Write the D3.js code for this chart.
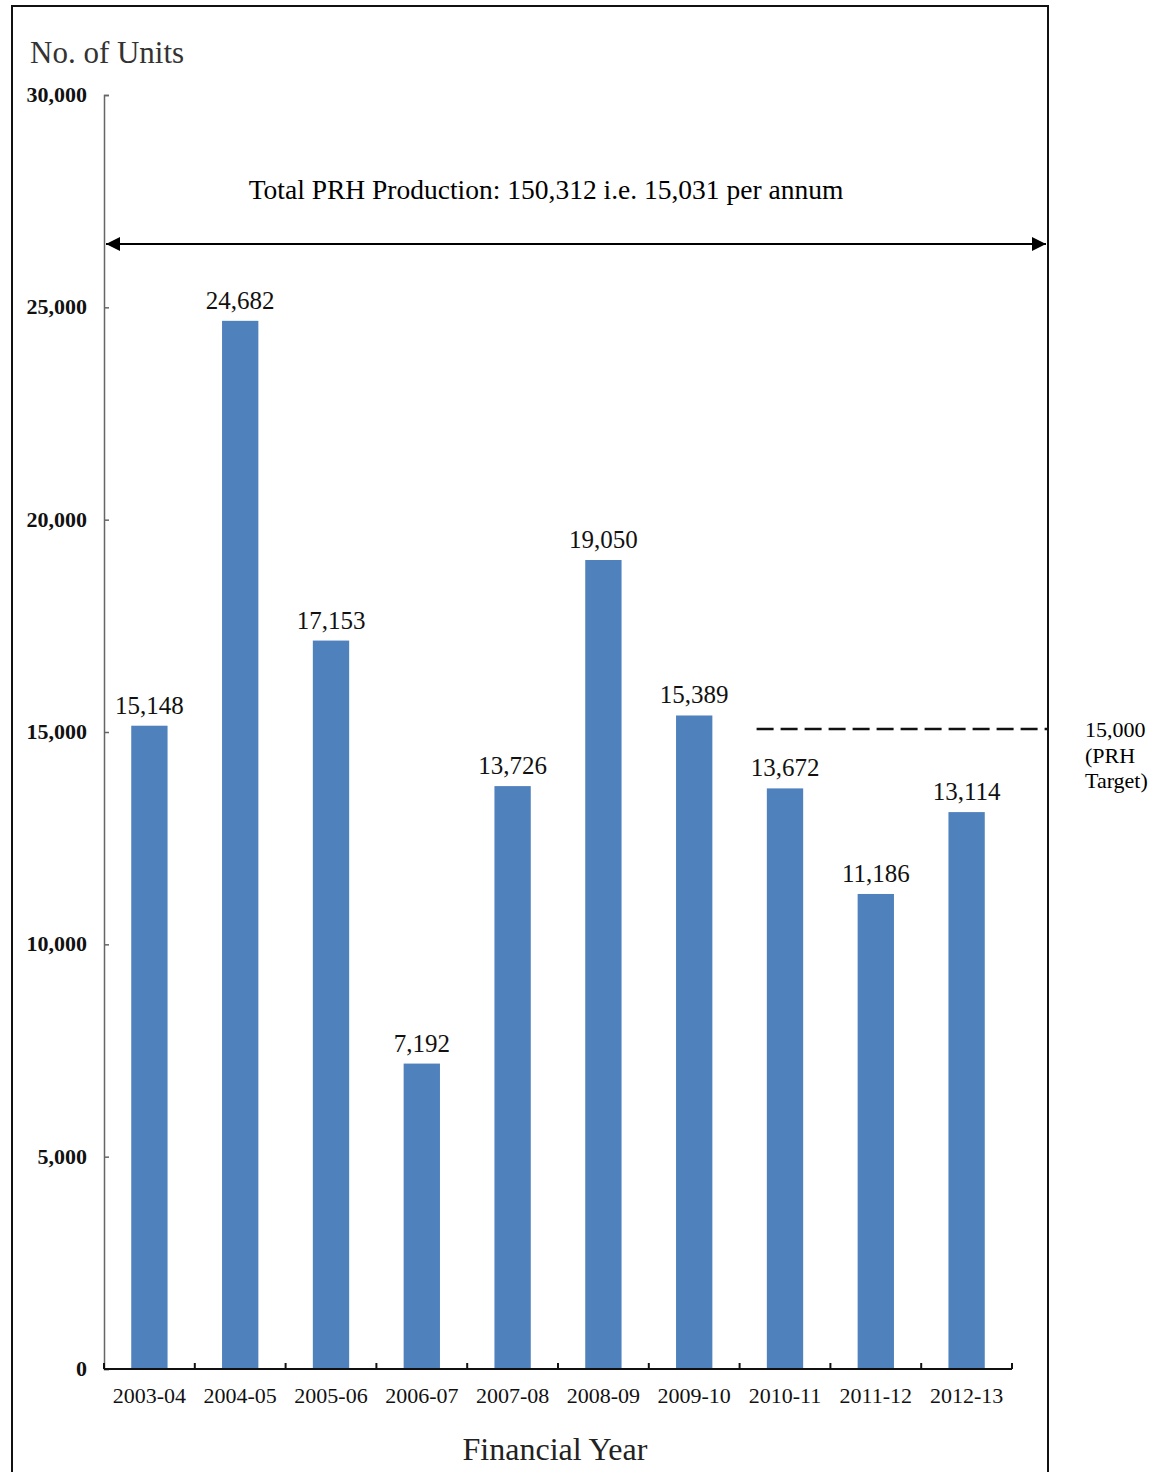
<!DOCTYPE html>
<html>
<head>
<meta charset="utf-8">
<script src="https://cdn.jsdelivr.net/npm/d3@7"></script>
<style>
  html, body { margin: 0; padding: 0; background: #fff; }
  svg { display: block; }
  text { font-family: "Liberation Serif", "DejaVu Serif", serif; }
</style>
</head>
<body>
<svg id="chart" width="1155" height="1472"></svg>
<script>
// Public rental housing production by financial year
const years = ["2003-04", "2004-05", "2005-06", "2006-07", "2007-08",
               "2008-09", "2009-10", "2010-11", "2011-12", "2012-13"];
const units = [15148, 24682, 17153, 7192, 13726, 19050, 15389, 13672, 11186, 13114];
const yTicks = [0, 5000, 10000, 15000, 20000, 25000, 30000];
const target = 15000;
const targetFrom = "2010-11";
const totalText = "Total PRH Production: 150,312 i.e. 15,031 per annum";

const svg = d3.select("#chart");
const plotLeft = 104, plotRight = 1012, plotTop = 95, plotBottom = 1369;

const x = d3.scaleBand().domain(years).range([plotLeft, plotRight]).paddingInner(0.6).paddingOuter(0.3);
const xb = d3.scaleBand().domain(years).range([plotLeft, plotRight]);
const y = d3.scaleLinear().domain([0, 30000]).range([plotBottom, plotTop]);
const fmt = d3.format(",");

// outer frame
svg.append("rect")
  .attr("x", 12).attr("y", 6).attr("width", 1036).attr("height", 1480)
  .attr("fill", "none").attr("stroke", "#111").attr("stroke-width", 2);

// arrow markers
const defs = svg.append("defs");
defs.append("marker").attr("id", "ahead")
  .attr("viewBox", "0 0 10 10").attr("refX", 10).attr("refY", 5)
  .attr("markerWidth", 7).attr("markerHeight", 7).attr("markerUnits", "strokeWidth")
  .attr("orient", "auto-start-reverse")
  .append("path").attr("d", "M0,0 L10,5 L0,10 Z").attr("fill", "#000");

// bars
svg.append("g").selectAll("rect").data(years).join("rect")
  .attr("x", d => x(d))
  .attr("y", (d, i) => y(units[i]))
  .attr("width", x.bandwidth())
  .attr("height", (d, i) => y(0) - y(units[i]))
  .attr("fill", "#4f81bd");

// value labels
svg.append("g").selectAll("text").data(years).join("text")
  .attr("x", d => x(d) + x.bandwidth() / 2)
  .attr("y", (d, i) => y(units[i]) - 12)
  .attr("text-anchor", "middle")
  .attr("font-size", 25).attr("fill", "#111")
  .text((d, i) => fmt(units[i]));

// y axis
const yAxis = svg.append("g").attr("transform", `translate(${plotLeft},0)`)
  .call(d3.axisRight(y).tickValues(yTicks).tickSize(5).tickFormat(""));
yAxis.select(".domain").attr("stroke", "#666").attr("stroke-width", 1.5);
yAxis.selectAll(".tick line").attr("stroke", "#666").attr("stroke-width", 1.5);
svg.append("g").selectAll("text").data(yTicks).join("text")
  .attr("x", 87).attr("y", d => y(d) + 7)
  .attr("text-anchor", "end")
  .attr("font-size", 22).attr("font-weight", "bold").attr("fill", "#111")
  .text(d => fmt(d));

// x axis
const xTickPos = years.map(d => xb(d)).concat([plotRight]);
const xAxis = svg.append("g").attr("transform", `translate(0,${plotBottom})`);
xAxis.append("line").attr("x1", plotLeft).attr("x2", plotRight)
  .attr("stroke", "#111").attr("stroke-width", 2);
xAxis.selectAll("line.tk").data(xTickPos).join("line").attr("class", "tk")
  .attr("x1", d => d).attr("x2", d => d).attr("y1", 0).attr("y2", -6)
  .attr("stroke", "#111").attr("stroke-width", 2);
xAxis.selectAll("text").data(years).join("text")
  .attr("x", d => xb(d) + xb.bandwidth() / 2)
  .attr("y", 34)
  .attr("text-anchor", "middle")
  .attr("font-size", 22).attr("fill", "#111")
  .text(d => d);

// axis titles
svg.append("text").attr("x", 30).attr("y", 63)
  .attr("font-size", 31).attr("fill", "#333").text("No. of Units");
svg.append("text").attr("x", 555).attr("y", 1460).attr("text-anchor", "middle")
  .attr("font-size", 32).attr("fill", "#222").text("Financial Year");

// total production span arrow
svg.append("line")
  .attr("x1", plotLeft + 2).attr("x2", 1046).attr("y1", 244).attr("y2", 244)
  .attr("stroke", "#000").attr("stroke-width", 2)
  .attr("marker-start", "url(#ahead)").attr("marker-end", "url(#ahead)");
svg.append("text").attr("x", 546).attr("y", 199).attr("text-anchor", "middle")
  .attr("font-size", 27.5).attr("fill", "#000").text(totalText);

// target line
svg.append("line")
  .attr("x1", xb(targetFrom) + 17).attr("x2", 1047)
  .attr("y1", y(target) - 3).attr("y2", y(target) - 3)
  .attr("stroke", "#111").attr("stroke-width", 2.5)
  .attr("stroke-dasharray", "17,7");
const tl = svg.append("text").attr("x", 1085).attr("y", 737)
  .attr("font-size", 22).attr("fill", "#000");
["15,000", "(PRH", "Target)"].forEach((s, i) =>
  tl.append("tspan").attr("x", 1085).attr("dy", i === 0 ? 0 : 25.5).text(s));
</script>
</body>
</html>
